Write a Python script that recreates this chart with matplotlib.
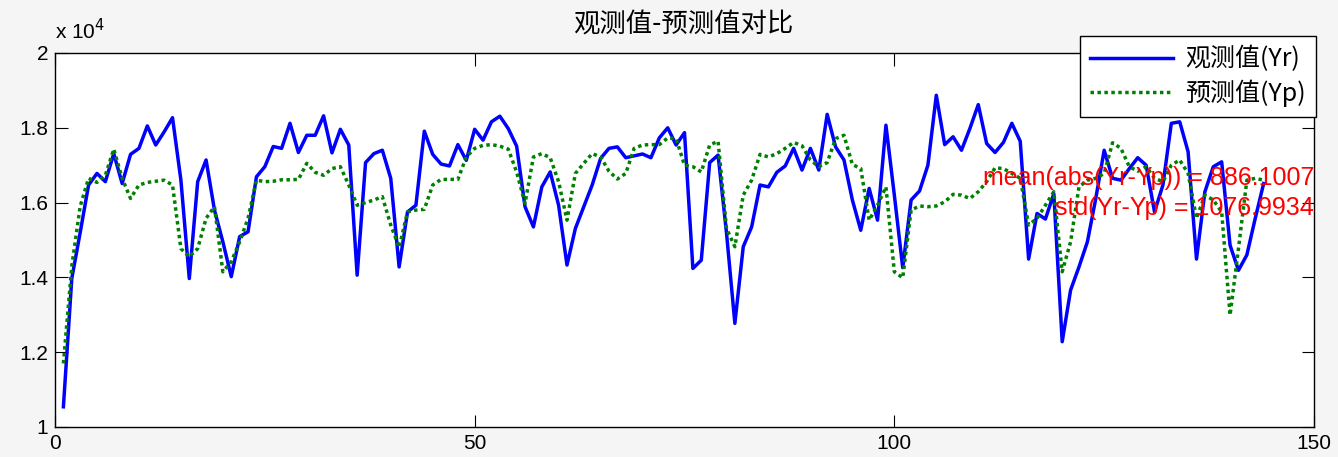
import numpy as np
import matplotlib.pyplot as plt

# 观测值 / 预测值, in units of 1e4
yr = [1.054, 1.397, 1.52, 1.647, 1.678, 1.656, 1.731, 1.651, 1.729, 1.745,
      1.805, 1.754, 1.789, 1.827, 1.66, 1.397, 1.656, 1.714, 1.58, 1.495,
      1.402, 1.509, 1.522, 1.669, 1.696, 1.75, 1.745, 1.812, 1.734, 1.780,
      1.780, 1.832, 1.733, 1.796, 1.754, 1.406, 1.707, 1.731, 1.740, 1.665,
      1.428, 1.575, 1.593, 1.791, 1.729, 1.703, 1.698, 1.755, 1.713, 1.796,
      1.767, 1.816, 1.831, 1.798, 1.751, 1.589, 1.535, 1.642, 1.682, 1.593,
      1.433, 1.531, 1.589, 1.647, 1.718, 1.745, 1.749, 1.720, 1.725, 1.730,
      1.720, 1.773, 1.800, 1.754, 1.787, 1.424, 1.446, 1.707, 1.727, 1.52,
      1.277, 1.482, 1.535, 1.647, 1.642, 1.681, 1.698, 1.745, 1.687, 1.745,
      1.687, 1.836, 1.749, 1.714, 1.607, 1.526, 1.638, 1.553, 1.807, 1.620,
      1.426, 1.607, 1.631, 1.700, 1.887, 1.755, 1.776, 1.740, 1.798, 1.862,
      1.758, 1.734, 1.761, 1.812, 1.764, 1.449, 1.571, 1.556, 1.624, 1.228,
      1.366, 1.428, 1.495, 1.611, 1.740, 1.665, 1.660, 1.691, 1.720, 1.700,
      1.575, 1.647, 1.812, 1.816, 1.736, 1.449, 1.629, 1.696, 1.709, 1.486,
      1.419, 1.460, 1.558, 1.651]

yp = [1.170, 1.43, 1.59, 1.665, 1.654, 1.673, 1.743, 1.665, 1.611, 1.647,
      1.654, 1.657, 1.660, 1.647, 1.477, 1.455, 1.477, 1.558, 1.589, 1.415,
      1.442, 1.495, 1.558, 1.660, 1.656, 1.657, 1.661, 1.661, 1.662, 1.705,
      1.681, 1.673, 1.691, 1.696, 1.647, 1.593, 1.600, 1.607, 1.616, 1.540,
      1.480, 1.575, 1.580, 1.582, 1.647, 1.662, 1.662, 1.662, 1.722, 1.745,
      1.753, 1.755, 1.751, 1.743, 1.682, 1.598, 1.722, 1.731, 1.720, 1.656,
      1.553, 1.678, 1.705, 1.731, 1.722, 1.684, 1.663, 1.678, 1.745, 1.754,
      1.755, 1.755, 1.773, 1.771, 1.700, 1.696, 1.682, 1.754, 1.764, 1.531,
      1.482, 1.620, 1.660, 1.729, 1.722, 1.731, 1.745, 1.761, 1.752, 1.714,
      1.696, 1.707, 1.771, 1.780, 1.702, 1.691, 1.553, 1.593, 1.642, 1.415,
      1.399, 1.580, 1.591, 1.589, 1.591, 1.602, 1.622, 1.620, 1.611, 1.629,
      1.656, 1.693, 1.691, 1.678, 1.665, 1.540, 1.558, 1.593, 1.629, 1.415,
      1.495, 1.642, 1.660, 1.665, 1.678, 1.760, 1.745, 1.696, 1.684, 1.696,
      1.665, 1.656, 1.700, 1.714, 1.678, 1.558, 1.620, 1.607, 1.575, 1.299,
      1.477, 1.660, 1.665, 1.660]

xticks = [0, 50, 100, 150]
yticks = [1, 1.2, 1.4, 1.6, 1.8, 2]
ytick_labels = ['1', '1.2', '1.4', '1.6', '1.8', '2']

plt.rcParams['font.family'] = ['Liberation Sans', 'Noto Sans CJK SC']
cjk = ['Noto Sans CJK SC', 'Liberation Sans']

W, H = 1338, 457
fig = plt.figure(figsize=(W / 100, H / 100), dpi=100, facecolor='#f5f5f5')
ax = fig.add_axes([55 / W, 1 - 427 / H, (1314 - 55) / W, (427 - 53) / H])

x = np.arange(1, len(yr) + 1)
ax.plot(x, yr, color='#0000ff', lw=2.5, label='观测值(Yr)')
ax.plot(x, yp, color='#008000', lw=2.5, ls=(0, (1, 1)), label='预测值(Yp)')

ax.set_xlim(0, 150)
ax.set_ylim(1, 2)
ax.set_xticks(xticks)
ax.set_yticks(yticks)
ax.set_yticklabels(ytick_labels)
ax.tick_params(direction='in', top=True, right=True, length=9, width=0.8,
               labelsize=15, pad=5)
for s in ax.spines.values():
    s.set_linewidth(1)

fig.text(683 / W, 1 - 25 / H, '观测值-预测值对比', ha='center', va='center',
         fontsize=19, family=cjk)
fig.text(55 / W, 1 - 31 / H, r'x 10$^{4}$', ha='left', va='center', fontsize=15)

ax.text(150, 1.665, 'mean(abs(Yr-Yp)) = 886.1007', color='red', fontsize=18,
        ha='right', va='center')
ax.text(150, 1.585, 'std(Yr-Yp) = 1076.9934', color='red', fontsize=18,
        ha='right', va='center')

leg = ax.legend(loc='upper right', bbox_to_anchor=(1316 / W, 1 - 36 / H),
                bbox_transform=fig.transFigure, borderaxespad=0,
                fancybox=False, framealpha=1, edgecolor='black',
                prop={'family': cjk, 'size': 18}, handlelength=3.3,
                handletextpad=0.5, borderpad=0.4, labelspacing=0.3)
leg.get_frame().set_linewidth(1)

plt.savefig('out.png', dpi=100, facecolor=fig.get_facecolor())
